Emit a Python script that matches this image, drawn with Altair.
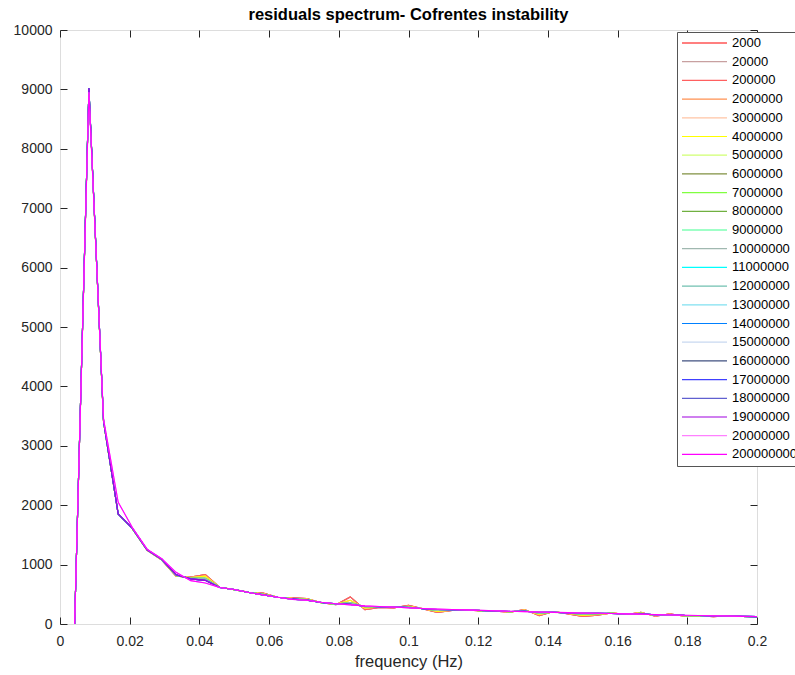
import altair as alt
import pandas as pd

# frequency bins (Hz)
freq = [0.0042, 0.0083, 0.0125, 0.0167, 0.0208, 0.0250, 0.0292, 0.0333, 0.0375, 0.0417,
        0.0458, 0.0500, 0.0542, 0.0583, 0.0625, 0.0667, 0.0708, 0.0750, 0.0792, 0.0833,
        0.0875, 0.0917, 0.0958, 0.1000, 0.1042, 0.1083, 0.1125, 0.1167, 0.1208, 0.1250,
        0.1292, 0.1333, 0.1375, 0.1417, 0.1458, 0.1500, 0.1542, 0.1583, 0.1625, 0.1667,
        0.1708, 0.1750, 0.1792, 0.1833, 0.1875, 0.1917, 0.1958, 0.2000]

# spectrum shapes (groups of near-identical series)
prof_red = [0, 9000, 3400, 1850, 1600, 1240, 1075, 805, 790, 830, 620, 578, 533, 520, 450, 440,
            430, 358, 325, 456, 242, 280, 272, 315, 255, 195, 230, 235, 220, 215, 200, 245,
            140, 210, 170, 128, 150, 187, 160, 197, 130, 170, 130, 140, 125, 140, 125, 122]
prof_orange = [0, 9000, 3400, 1850, 1600, 1245, 1080, 810, 780, 805, 620, 578, 532, 510, 450, 432,
               420, 360, 330, 400, 265, 285, 278, 298, 256, 212, 234, 236, 223, 218, 203, 235,
               160, 205, 176, 145, 160, 184, 162, 190, 138, 165, 135, 141, 128, 139, 126, 123]
prof_green = [0, 9010, 3400, 1850, 1600, 1250, 1085, 815, 770, 770, 618, 578, 532, 500, 450, 425,
              412, 360, 335, 360, 290, 290, 282, 285, 258, 230, 238, 237, 226, 220, 206, 222,
              180, 200, 182, 165, 172, 180, 165, 180, 148, 160, 140, 143, 132, 138, 127, 124]
prof_blue = [0, 9020, 3420, 1850, 1610, 1250, 1090, 830, 760, 735, 615, 580, 530, 490, 450, 418,
             402, 362, 340, 330, 300, 292, 284, 278, 258, 245, 242, 238, 228, 221, 210, 215,
             195, 198, 186, 180, 180, 178, 168, 172, 156, 155, 146, 144, 136, 136, 128, 125]
prof_magenta = [0, 8950, 3450, 2050, 1620, 1260, 1100, 870, 730, 690, 615, 580, 530, 488, 450, 415,
                400, 365, 340, 322, 305, 295, 285, 272, 262, 252, 244, 238, 230, 222, 214, 208,
                202, 196, 191, 186, 181, 176, 170, 163, 158, 152, 148, 143, 138, 134, 129, 125]

series_names = ["2000", "20000", "200000", "2000000", "3000000", "4000000", "5000000",
                "6000000", "7000000", "8000000", "9000000", "10000000", "11000000",
                "12000000", "13000000", "14000000", "15000000", "16000000", "17000000",
                "18000000", "19000000", "20000000", "200000000"]
series_colors = ["#ff0000", "#c8a0a0", "#ff6060", "#ff9050", "#ffc4a4", "#ffff00", "#d0ff70",
                 "#809040", "#80ff40", "#70b040", "#40ff90", "#a0b8b0", "#00ffff",
                 "#70c0b0", "#80e0f0", "#0080ff", "#c8d8f0", "#405080", "#4040ff",
                 "#6060d0", "#a000e0", "#ff80ff", "#ff00ff"]
series_profile = ["red", "red", "red", "orange", "orange", "orange", "green", "green",
                  "green", "green", "green", "green", "blue", "blue", "blue", "blue", "blue",
                  "blue", "blue", "blue", "blue", "magenta", "magenta"]

profiles = {"red": prof_red, "orange": prof_orange, "green": prof_green,
            "blue": prof_blue, "magenta": prof_magenta}

rows = []
for i, (name, prof) in enumerate(zip(series_names, series_profile)):
    for f, v in zip(freq, profiles[prof]):
        rows.append({"series": name, "idx": i, "freq": f, "power": v})
df = pd.DataFrame(rows)

x_ticks = [0, 0.02, 0.04, 0.06, 0.08, 0.1, 0.12, 0.14, 0.16, 0.18, 0.2]
y_ticks = [0, 1000, 2000, 3000, 4000, 5000, 6000, 7000, 8000, 9000, 10000]

AX = "#262626"
FONT = "Liberation Sans"

x_scale = alt.Scale(domain=[0, 0.2], nice=False, zero=False)
y_scale = alt.Scale(domain=[0, 10000], nice=False, zero=False)

common = dict(offset=-7, tickSize=7, domain=False, grid=False, tickColor=AX,
              tickWidth=1, labelColor=AX, labelFont=FONT, labelFontSize=14)

x_axis = alt.Axis(orient="bottom", values=x_ticks, format="~g", title="frequency (Hz)",
                  titleFont=FONT, titleFontSize=16.5, titleFontWeight="normal",
                  titleColor=AX, titlePadding=5, labelPadding=10, labelFlush=False, **common)
y_axis = alt.Axis(orient="left", values=y_ticks, format="d", title=None,
                  labelPadding=8, **common)
x_axis_top = alt.Axis(orient="top", values=x_ticks, labels=False, title=None,
                      offset=-7, tickSize=7, domain=False, grid=False, tickColor=AX)
y_axis_right = alt.Axis(orient="right", values=y_ticks, labels=False, title=None,
                        offset=-7, tickSize=7, domain=False, grid=False, tickColor=AX)

lines = alt.Chart(df).mark_line(strokeWidth=1.1, clip=True).encode(
    x=alt.X("freq:Q", scale=x_scale, axis=x_axis),
    y=alt.Y("power:Q", scale=y_scale, axis=y_axis),
    color=alt.Color("series:N", sort=series_names,
                    scale=alt.Scale(domain=series_names, range=series_colors),
                    legend=alt.Legend(orient="none", legendX=617, legendY=2, title=None,
                                      symbolType="stroke", symbolSize=2025,
                                      symbolStrokeWidth=1.2, labelFont=FONT,
                                      labelFontSize=13, labelColor="#000000",
                                      labelOffset=4, rowPadding=4.7, padding=4,
                                      clipHeight=14,
                                      fillColor="#ffffff", strokeColor="#555555",
                                      labelLimit=300)),
    order=alt.Order("idx:Q"),
)

frame = alt.Chart(df).mark_point(opacity=0).encode(
    x=alt.X("freq:Q", scale=x_scale, axis=x_axis_top),
    y=alt.Y("power:Q", scale=y_scale, axis=y_axis_right),
)

chart = alt.layer(lines, frame).resolve_axis(x="independent", y="independent").properties(
    width=697, height=594,
    padding={"left": 60, "top": 30, "right": 38, "bottom": 51},
    autosize=alt.AutoSizeParams(type="none"),
    title=alt.TitleParams("residuals spectrum- Cofrentes instability", font=FONT,
                          fontSize=16.5, fontWeight="bold", color="#000000",
                          anchor="middle", offset=0),
).configure_view(stroke=AX, strokeWidth=1).configure(background="#ffffff")

chart.save("out.html", embed_options={"renderer": "svg", "actions": False})
